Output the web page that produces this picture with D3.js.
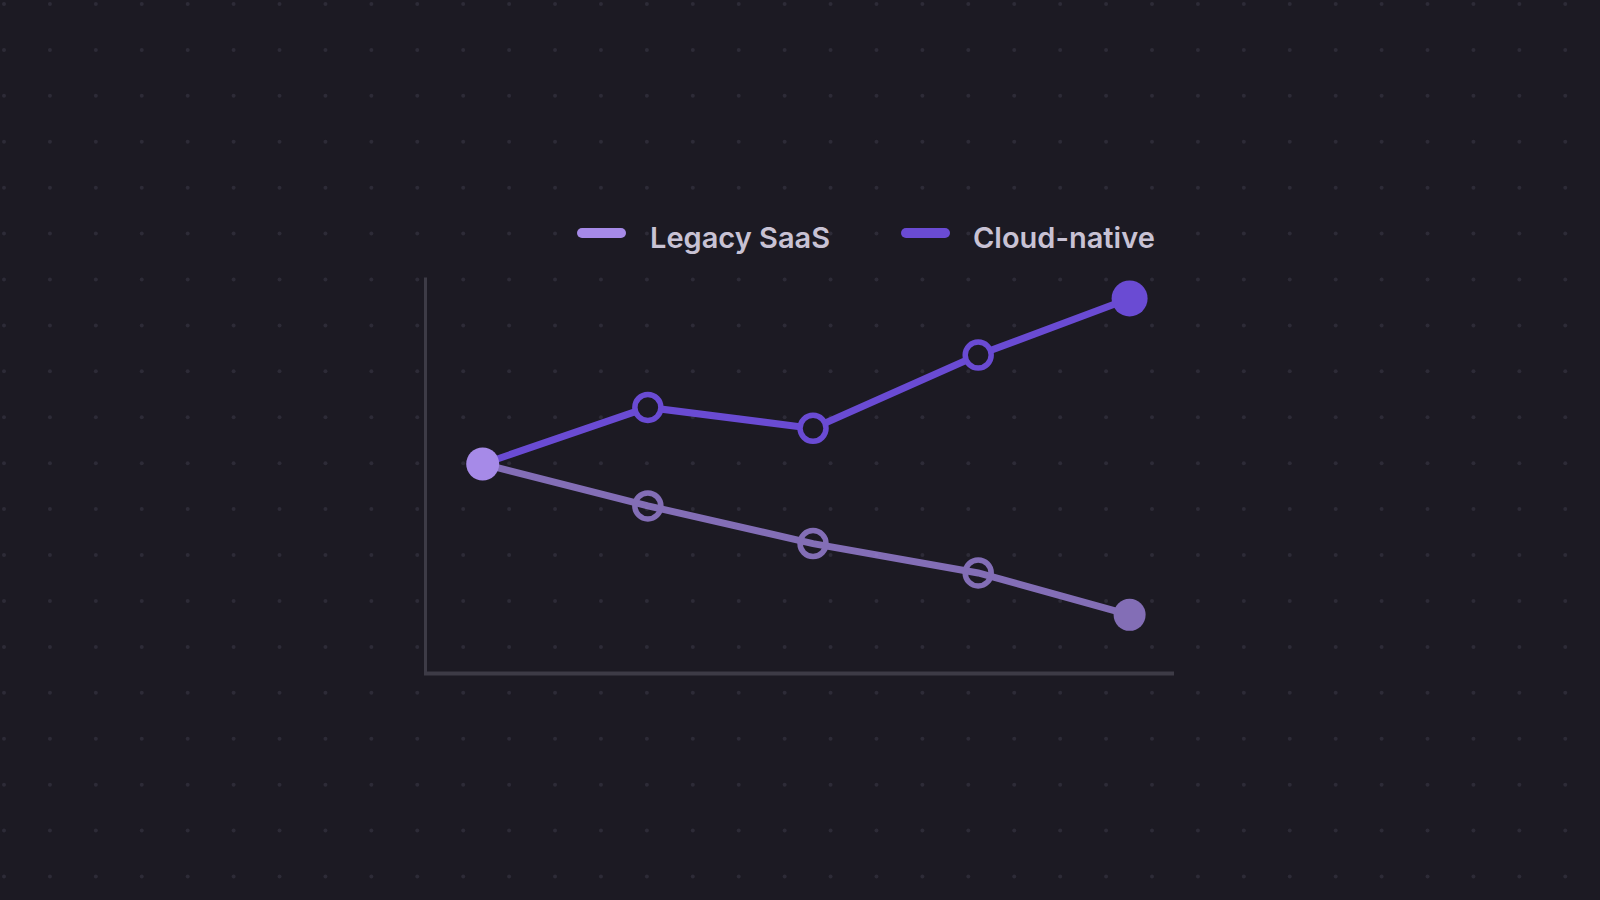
<!DOCTYPE html>
<html><head><meta charset="utf-8">
<script src="https://cdn.jsdelivr.net/npm/d3@7"></script>
<style>html,body{margin:0;background:#1c1a23;}svg{display:block}</style>
</head><body><svg id="c" width="1600" height="900"></svg>
<script>
const months = [0, 12, 24, 36, 47];
const legacy = [100, 80, 62, 48, 28];
const cloud = [100, 127, 117, 152, 179];
const seriesNames = ["Legacy SaaS", "Cloud-native"];
const colors = ["#a68ae8", "#6a4bd3"];

const svg = d3.select("#c");
const W = 1600, H = 900;
// dot grid
const g0 = svg.append("g");
for (let x = 4; x < W; x += 45.92) for (let y = 4; y < H; y += 45.92)
  g0.append("circle").attr("cx", x).attr("cy", y).attr("r", 2).attr("fill", "#2d2b37");

const x = d3.scaleLinear().domain([0, 47]).range([482.7, 1129.6]);
const y = d3.scaleLinear().domain([0, 189]).range([673.5, 277.5]);

svg.append("line").attr("x1", 425.5).attr("x2", 425.5).attr("y1", 277.5).attr("y2", 673.5)
  .attr("stroke", "#3d3b46").attr("stroke-width", 3);
svg.append("line").attr("x1", 424).attr("x2", 1174).attr("y1", 673.5).attr("y2", 673.5)
  .attr("stroke", "#3d3b46").attr("stroke-width", 4);

const line = d3.line().x((d, i) => x(months[i])).y(d => y(d));
const bg = "#1c1a23";

function drawSeries(vals, col, op, endR) {
  const g = svg.append("g").attr("opacity", op);
  g.append("path").datum(vals).attr("d", line).attr("fill", "none")
    .attr("stroke", col).attr("stroke-width", 7).attr("stroke-linecap", "round");
  vals.forEach((v, i) => {
    if (i === 0) return;
    if (i === vals.length - 1) {
      g.append("circle").attr("cx", x(months[i])).attr("cy", y(v)).attr("r", endR).attr("fill", col);
    } else {
      g.append("circle").attr("cx", x(months[i])).attr("cy", y(v)).attr("r", 13)
        .attr("fill", op < 1 ? "none" : bg).attr("stroke", col).attr("stroke-width", 5.5);
    }
  });
}
drawSeries(legacy, colors[0], 0.75, 16);
drawSeries(cloud, colors[1], 1, 18);
svg.append("circle").attr("cx", x(months[0])).attr("cy", y(legacy[0])).attr("r", 16.5).attr("fill", colors[0]);

// legend
const lg = [{x: 577, t: 650}, {x: 901, t: 973}];
seriesNames.forEach((n, i) => {
  svg.append("line").attr("x1", lg[i].x + 5).attr("x2", lg[i].x + 44).attr("y1", 233).attr("y2", 233)
    .attr("stroke", colors[i]).attr("stroke-width", 10).attr("stroke-linecap", "round");
  svg.append("text").attr("x", lg[i].t).attr("y", 248).text(n)
    .attr("fill", "#c8c2d4").attr("font-family", "Inter, Lato, sans-serif")
    .attr("font-weight", 600).attr("font-size", 29);
});
</script></body></html>
